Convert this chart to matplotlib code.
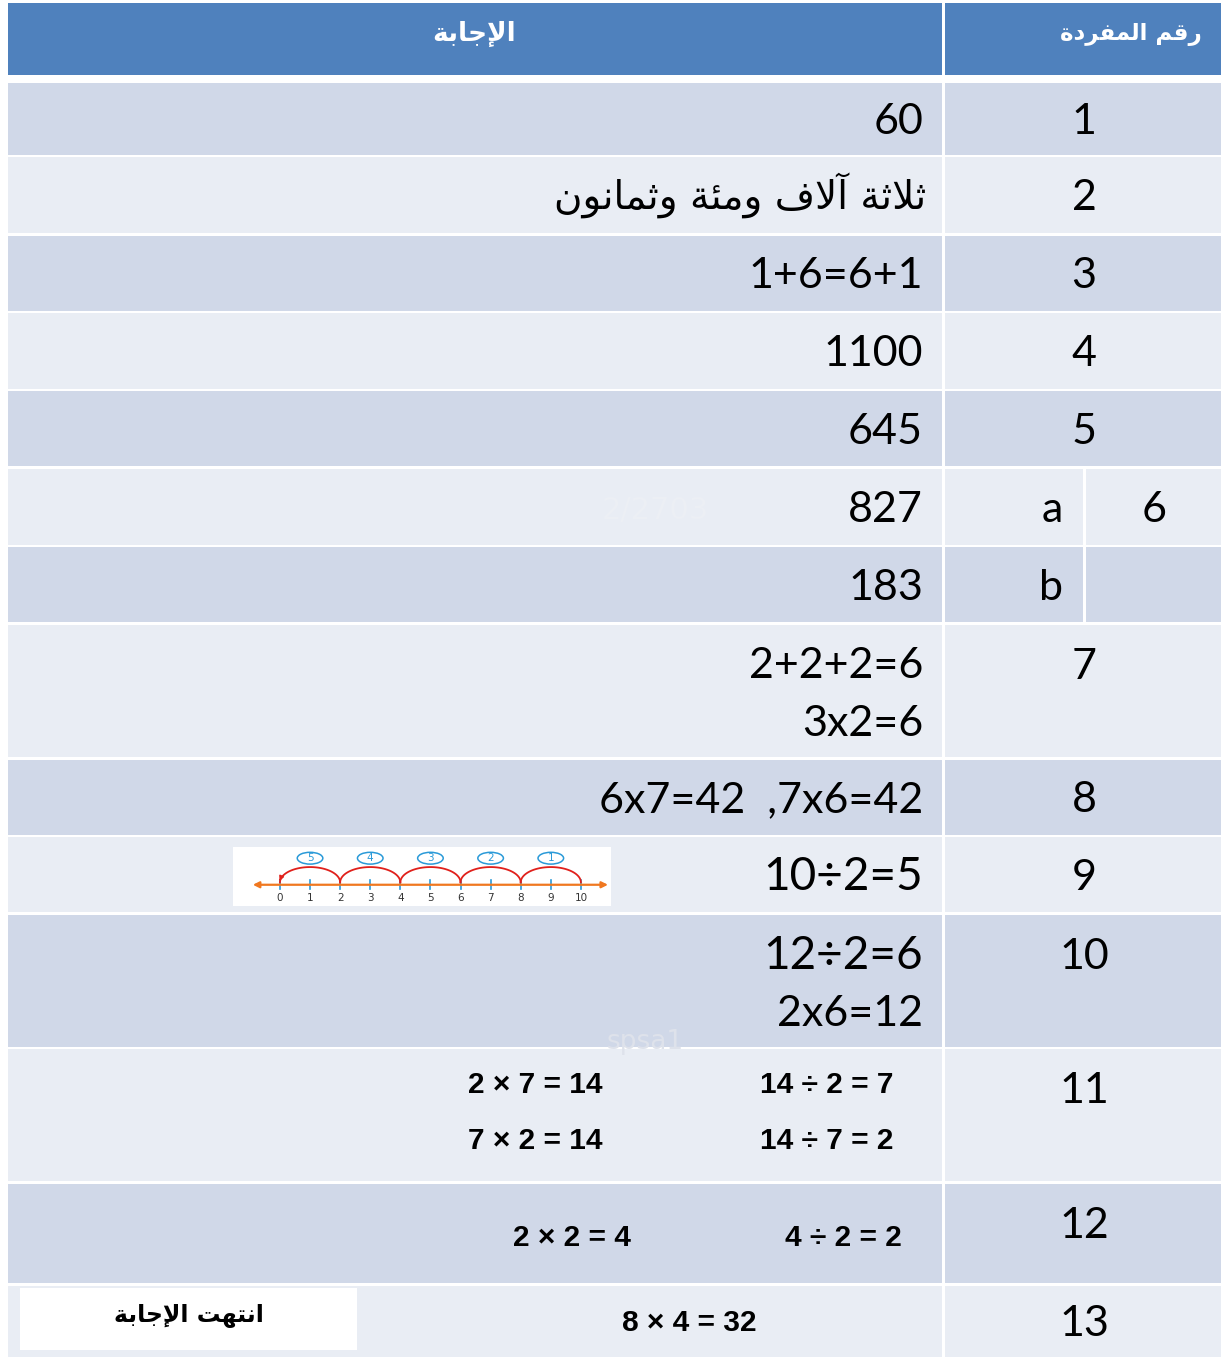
import numpy as np
import matplotlib.pyplot as plt
from matplotlib.patches import Rectangle, Ellipse

# ---- data -------------------------------------------------------------
header_answer = "الإجابة"
header_item = "رقم المفردة"
item_numbers = ['1', '2', '3', '4', '5', '6', '', '7', '8', '9', '10', '11', '12', '13']
sub_labels = ['', '', '', '', '', 'a', 'b', '', '', '', '', '', '', '']
answers = ['60', 'ثلاثة آلاف ومئة وثمانون', '1+6=6+1', '1100', '645', '827', '183',
           '2+2+2=6\n3x2=6', '6x7=42  ,7x6=42', '10÷2=5', '12÷2=6\n2x6=12', '', '', '']
facts_11 = ['2 × 7 = 14', '7 × 2 = 14', '14 ÷ 2 = 7', '14 ÷ 7 = 2']
facts_12 = ['2 × 2 = 4', '4 ÷ 2 = 2']
facts_13 = '8 × 4 = 32'
end_note = "انتهت الإجابة"
line_ticks = list(range(0, 11))
jump_labels = ['1', '2', '3', '4', '5']

# ---- simple arabic shaping (matplotlib has no bidi / joining) ----------
FORMS = {
    'ء': (0xFE80, 1), 'آ': (0xFE81, 2), 'أ': (0xFE83, 2), 'ؤ': (0xFE85, 2), 'إ': (0xFE87, 2),
    'ئ': (0xFE89, 4), 'ا': (0xFE8D, 2), 'ب': (0xFE8F, 4), 'ة': (0xFE93, 2), 'ت': (0xFE95, 4),
    'ث': (0xFE99, 4), 'ج': (0xFE9D, 4), 'ح': (0xFEA1, 4), 'خ': (0xFEA5, 4), 'د': (0xFEA9, 2),
    'ذ': (0xFEAB, 2), 'ر': (0xFEAD, 2), 'ز': (0xFEAF, 2), 'س': (0xFEB1, 4), 'ش': (0xFEB5, 4),
    'ف': (0xFED1, 4), 'ق': (0xFED5, 4), 'ك': (0xFED9, 4), 'ل': (0xFEDD, 4),
    'م': (0xFEE1, 4), 'ن': (0xFEE5, 4), 'ه': (0xFEE9, 4), 'و': (0xFEED, 2), 'ى': (0xFEEF, 2),
    'ي': (0xFEF1, 4),
}
LAM_ALEF = {'آ': 0xFEF5, 'أ': 0xFEF7, 'إ': 0xFEF9, 'ا': 0xFEFB}


def shape(s):
    units = []
    i = 0
    while i < len(s):
        c = s[i]
        if c == 'ل' and i + 1 < len(s) and s[i + 1] in LAM_ALEF:
            units.append((LAM_ALEF[s[i + 1]], 2))
            i += 2
        else:
            units.append(FORMS.get(c, c))
            i += 1
    out = []
    for k, u in enumerate(units):
        if isinstance(u, str):
            out.append(u)
            continue
        base, n = u
        prev = units[k - 1] if k > 0 else None
        nxt = units[k + 1] if k + 1 < len(units) else None
        jp = n > 1 and isinstance(prev, tuple) and prev[1] == 4
        jn = n == 4 and isinstance(nxt, tuple)
        off = 3 if (jp and jn) else 1 if jp else 2 if jn else 0
        out.append(chr(base + off))
    return ''.join(reversed(out))


# ---- layout -----------------------------------------------------------
W, H = 1229, 1359
fig = plt.figure(figsize=(W / 100, H / 100), dpi=100)
ax = fig.add_axes([0, 0, 1, 1])
ax.set_xlim(0, W)
ax.set_ylim(H, 0)
ax.axis('off')

HEAD = '#4F81BD'
DARK = '#D0D8E8'
LIGHT = '#E9EDF4'
L0, L1, R0, R1, RS = 8, 942, 945, 1221, 1084
rows = [(83, 155), (157, 233), (236, 311), (313, 389), (391, 466), (469, 545), (547, 622),
        (625, 757), (760, 835), (837, 912), (915, 1047), (1049, 1181), (1184, 1283), (1286, 1357)]
dy = 3  # small downward nudge for text

NUM_FONT = 'Lato'
AR_FONT = 'DejaVu Sans'
BOLD_FONT = 'Liberation Sans'

# header
ax.add_patch(Rectangle((L0, 3), L1 - L0, 72, color=HEAD, lw=0))
ax.add_patch(Rectangle((R0, 3), R1 - R0, 72, color=HEAD, lw=0))
ax.text(474, 34, shape(header_answer), color='white', fontsize=19,
        fontweight='bold', family=AR_FONT, ha='center', va='center')
ax.text(1131, 35, shape(header_item), color='white', fontsize=16.5,
        fontweight='bold', family=AR_FONT, ha='center', va='center')

for i, (t, b) in enumerate(rows):
    col = DARK if i % 2 == 0 else LIGHT
    ax.add_patch(Rectangle((L0, t), L1 - L0, b - t, color=col, lw=0))
    if sub_labels[i]:
        ax.add_patch(Rectangle((R0, t), RS - 1 - R0, b - t, color=col, lw=0))
        ax.add_patch(Rectangle((RS + 2, t), R1 - RS - 2, b - t, color=col, lw=0))
        ax.text(1063, (t + b) / 2 + dy, sub_labels[i], fontsize=31, family=NUM_FONT,
                ha='right', va='center')
        if item_numbers[i]:
            ax.text(1154, (t + b) / 2 + dy, item_numbers[i], fontsize=31, family=NUM_FONT,
                    ha='center', va='center')
        continue
    ax.add_patch(Rectangle((R0, t), R1 - R0, b - t, color=col, lw=0))
    tall = b - t > 90
    ny = t + 42 if tall else (t + b) / 2 + dy
    ax.text(1084, ny, item_numbers[i], fontsize=31, family=NUM_FONT,
            ha='center', va='center')

# answers in the plain rows
for i, a in enumerate(answers):
    if not a:
        continue
    t, b = rows[i]
    if i == 1:
        ax.text(926, (t + b) / 2, shape(a), fontsize=28, family=AR_FONT,
                ha='right', va='center')
    elif '\n' in a:
        first, second = a.split('\n')
        big = 33 if '÷' in first else 31
        ax.text(923, t + 41, first, fontsize=big, family=NUM_FONT, ha='right', va='center')
        ax.text(923, t + 99, second, fontsize=31, family=NUM_FONT, ha='right', va='center')
    else:
        fs = 33 if '÷' in a else 31
        ax.text(923, (t + b) / 2 + dy, a, fontsize=fs, family=NUM_FONT, ha='right', va='center')

# bold fact rows
FS = 21.5
t11 = rows[11][0]
ax.text(535, t11 + 36, facts_11[0], fontsize=FS, fontweight='bold', family=BOLD_FONT,
        ha='center', va='center')
ax.text(535, t11 + 92, facts_11[1], fontsize=FS, fontweight='bold', family=BOLD_FONT,
        ha='center', va='center')
ax.text(827, t11 + 36, facts_11[2], fontsize=FS, fontweight='bold', family=BOLD_FONT,
        ha='center', va='center')
ax.text(827, t11 + 92, facts_11[3], fontsize=FS, fontweight='bold', family=BOLD_FONT,
        ha='center', va='center')
t12 = rows[12][0]
ax.text(572, t12 + 54, facts_12[0], fontsize=FS, fontweight='bold', family=BOLD_FONT,
        ha='center', va='center')
ax.text(843, t12 + 54, facts_12[1], fontsize=FS, fontweight='bold', family=BOLD_FONT,
        ha='center', va='center')
t13, b13 = rows[13]
ax.text(689, t13 + 37, facts_13, fontsize=FS, fontweight='bold', family=BOLD_FONT,
        ha='center', va='center')
ax.add_patch(Rectangle((20, t13 + 2), 337, 62, color='white', lw=0))
ax.text(189, t13 + 29, shape(end_note), fontsize=17, fontweight='bold', family=AR_FONT,
        ha='center', va='center')

# faint watermarks
ax.text(655, 510, '2/2703', fontsize=22, color='#ECEFF4', ha='center', va='center')
ax.text(645, 1042, 'spsa1', fontsize=19, color='#DEE2EB', ha='center', va='center')

# ---- number line picture in row 9 ---------------------------------------
bx0, by0, bx1, by1 = 233, 847, 611, 906
nax = fig.add_axes([bx0 / W, 1 - by1 / H, (bx1 - bx0) / W, (by1 - by0) / H])
nax.set_facecolor('white')
nax.set_xlim(-1.56, 11.0)
nax.set_ylim(0, 1)
for s in nax.spines.values():
    s.set_visible(False)
nax.set_xticks([])
nax.set_yticks([])
ORANGE = '#F07820'
BLUE = '#2A9AD8'
nax.annotate('', xy=(-0.9, 0.36), xytext=(10.9, 0.36),
             arrowprops=dict(arrowstyle='<|-|>', color=ORANGE, lw=1.6,
                             mutation_scale=9, shrinkA=0, shrinkB=0))
for v in line_ticks:
    nax.plot([v, v], [0.28, 0.44], color=BLUE, lw=1.2)
    nax.text(v, 0.14, str(v), fontsize=7.5, ha='center', va='center', color='#333333')
tt = np.linspace(0, np.pi, 40)
for k, lab in enumerate(jump_labels):
    start = 10 - 2 * k
    c = start - 1
    xs = c + np.cos(tt)
    ys = 0.40 + 0.26 * np.sin(tt)
    nax.plot(xs, ys, color='#E0201B', lw=1.3)
    nax.add_patch(Ellipse((c, 0.81), 0.85, 0.2, fill=False, ec=BLUE, lw=1.1))
    nax.text(c, 0.81, lab, fontsize=7.5, color=BLUE, ha='center', va='center')
nax.annotate('', xy=(-0.05, 0.38), xytext=(0.05, 0.5),
             arrowprops=dict(arrowstyle='-|>', color='#E0201B', lw=1, mutation_scale=7))

fig.savefig('out.png', dpi=100)
